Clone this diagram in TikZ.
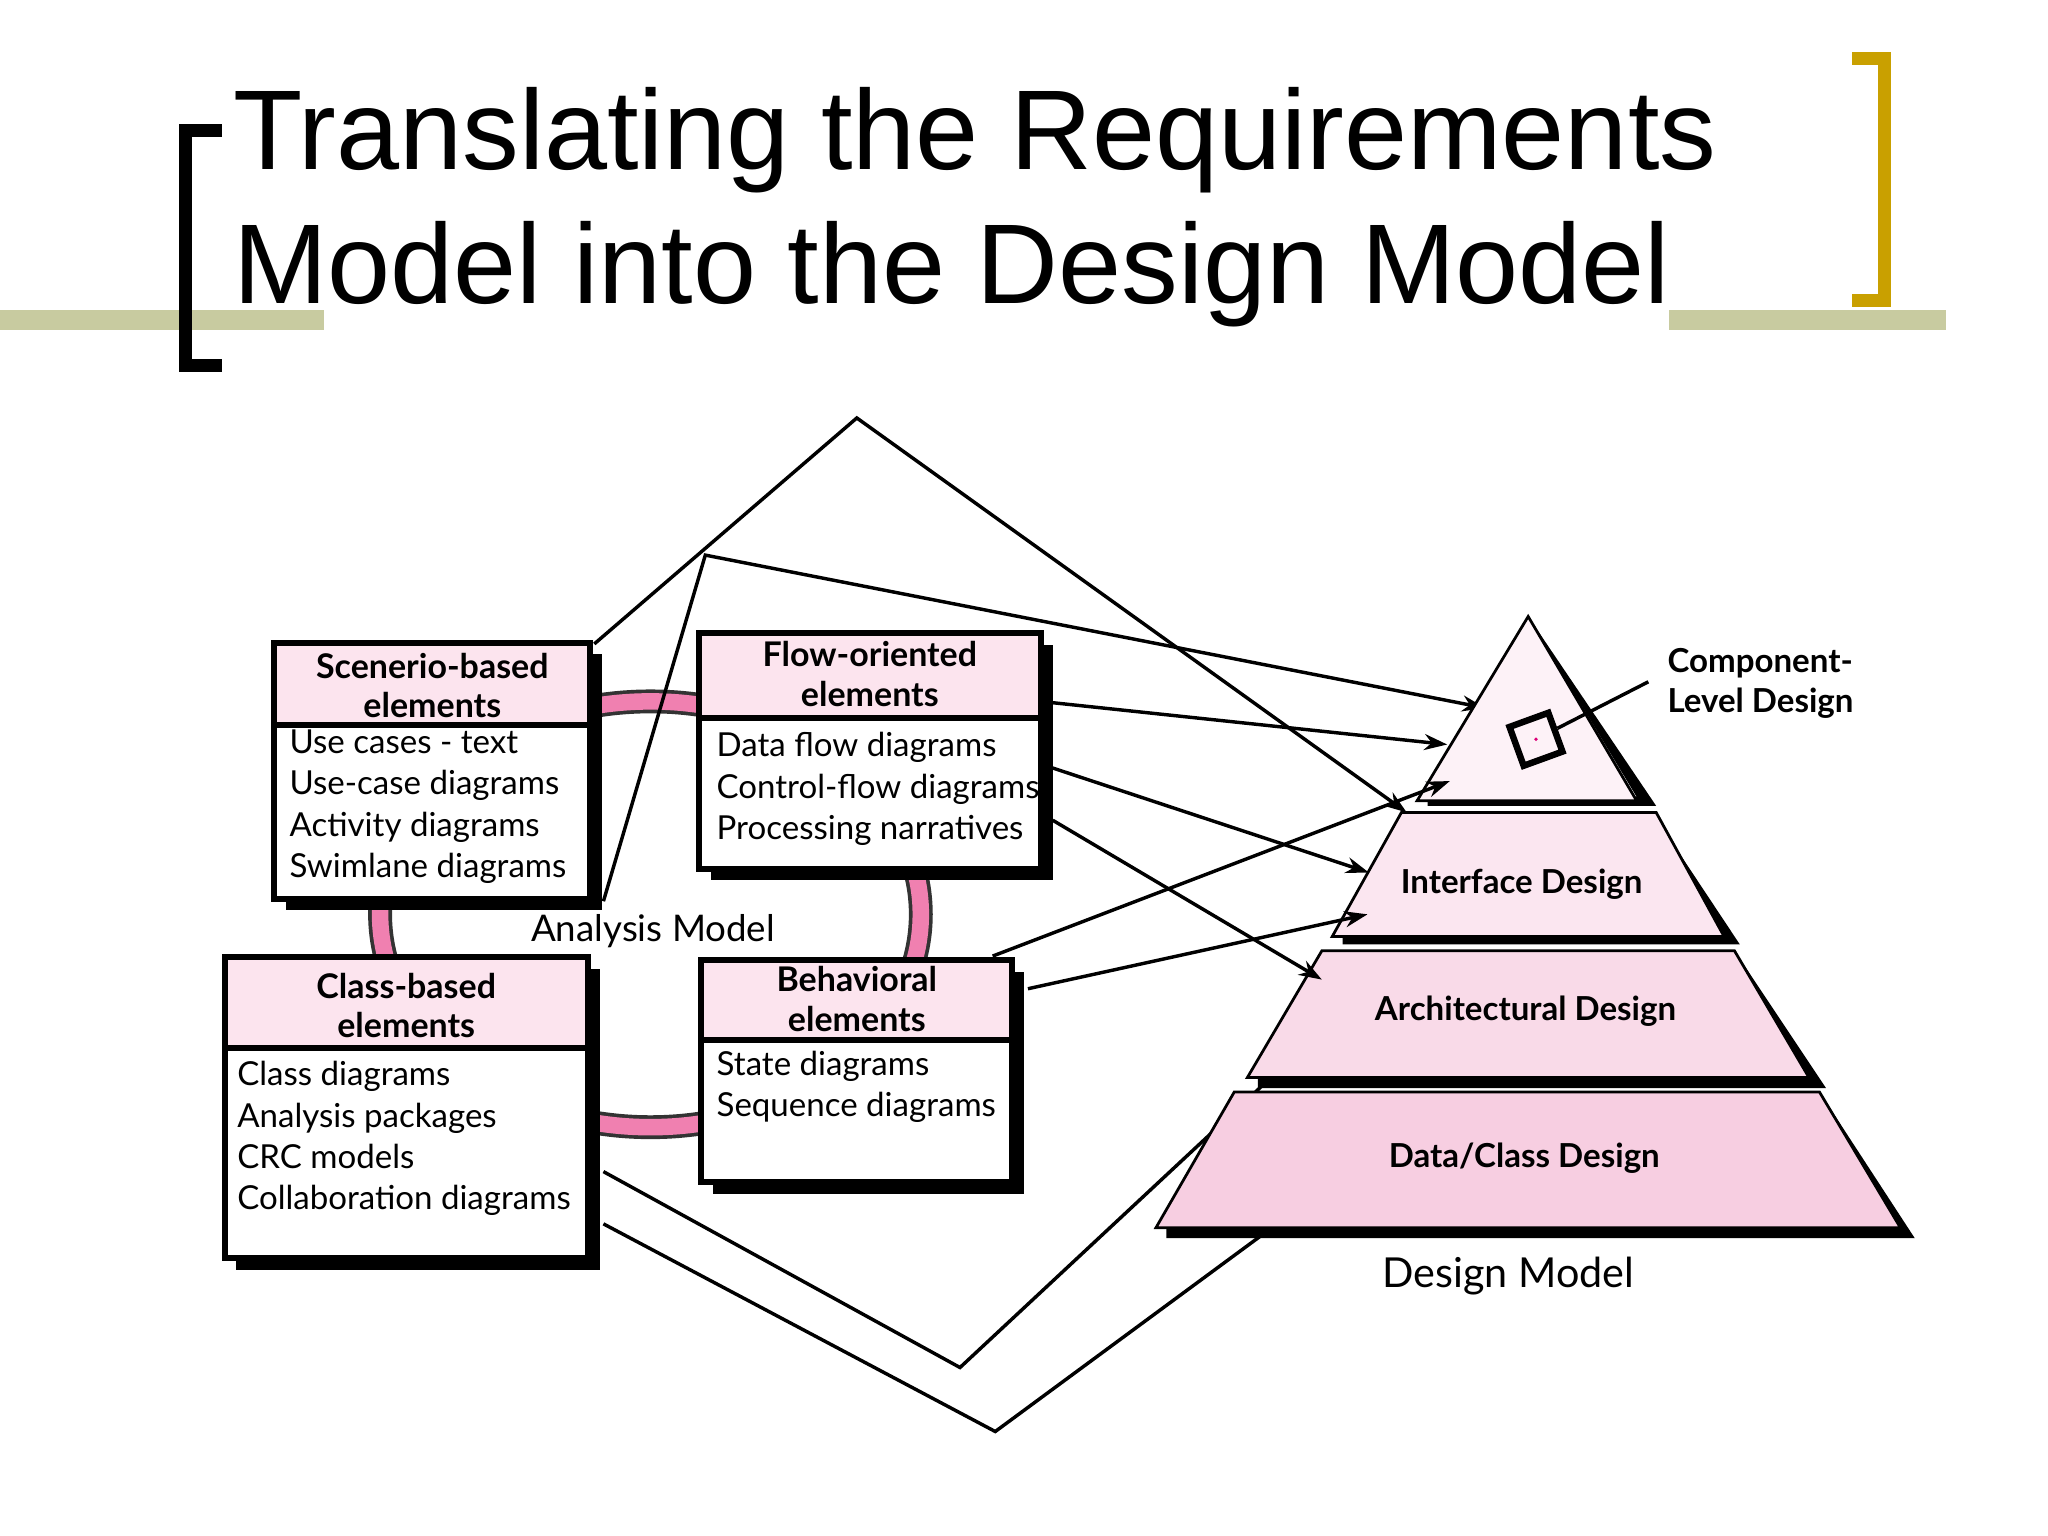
\documentclass[tikz,border=0pt]{standalone}
\usepackage{fontspec}
\setmainfont{Lato}
\newfontfamily\titlefont{Liberation Sans}
\usetikzlibrary{arrows.meta}
\definecolor{olive}{RGB}{200,203,160}
\definecolor{gold}{RGB}{201,160,0}
\definecolor{hdr}{RGB}{252,228,238}
\definecolor{ring}{RGB}{240,128,176}
\definecolor{pA}{RGB}{253,242,247}
\definecolor{pB}{RGB}{251,230,240}
\definecolor{pC}{RGB}{249,218,232}
\definecolor{pD}{RGB}{247,206,225}
\definecolor{mag}{RGB}{220,0,120}
\tikzset{
  conn/.style={line width=0.75pt,-{Stealth[length=5pt,width=3.5pt]}},
  plain/.style={line width=0.75pt},
  boxline/.style={line width=1.3pt},
  hd/.style={font=\bfseries\fontsize{7.4}{8.6}\selectfont,align=center,inner sep=0},
  it/.style={font=\fontsize{7.2}{9}\selectfont,align=left,anchor=north west,inner sep=0},
  lay/.style={draw=black,line width=0.6pt,line join=miter},
  sh/.style={fill=black},
  pl/.style={font=\bfseries\fontsize{7.2}{8.6}\selectfont,inner sep=0},
}
\newcommand{\elbox}[9]{%
  % #1 name, #2 x1, #3 y1, #4 x2, #5 y2, #6 ydiv, #7 title, #8 items, #9 title y
  \fill[black] (#2+9,#3+9) rectangle (#4+9,#5+9);
  \draw[boxline,fill=white] (#2,#3) rectangle (#4,#5);
  \draw[boxline,fill=hdr] (#2,#3) rectangle (#4,#6);
  \path (#2,#3) coordinate (#1-nw) (#4,#5) coordinate (#1-se);
  \node[hd] (#1-t) at ({(#2+#4)/2},#9) {#7};
}
\begin{document}
\begin{tikzpicture}[x=0.1mm,y=-0.1mm]
\useasboundingbox (0,0) rectangle (1568,1176);
% title decorations
\fill[olive] (0,237) rectangle (248,253);
\fill[olive] (1278,237) rectangle (1490,253);
\fill[black] (137,95) rectangle (147,285);
\fill[black] (137,95) rectangle (170,105);
\fill[black] (137,275) rectangle (170,285);
\fill[gold] (1438,40) rectangle (1448,235);
\fill[gold] (1418,40) rectangle (1448,50);
\fill[gold] (1418,225) rectangle (1448,235);
\node[anchor=base west,inner sep=0,font=\titlefont\fontsize{24.7}{29}\selectfont] (t1) at (178,130) {Translating the Requirements};
\node[anchor=base west,inner sep=0,font=\titlefont\fontsize{24.7}{29}\selectfont] (t2) at (178,232) {Model into the Design Model};
% ring
\draw[line width=5.2pt,black!80] (498,700) ellipse [x radius=207,y radius=163];
\draw[line width=3.6pt,ring] (498,700) ellipse [x radius=207,y radius=163];
% big diamond lines (behind boxes)
\coordinate (d1) at (455,493);
\coordinate (d2) at (656,320);
\coordinate (d3) at (1077,622);
\draw[conn] (d1) -- (d2) -- (d3);
\coordinate (e1) at (462,690);
\coordinate (e2) at (540,425);
\coordinate (e3) at (1137,542);
\draw[conn] (e1) -- (e2) -- (e3);
\coordinate (f1) at (462,897);
\coordinate (f2) at (735,1047);
\coordinate (f3) at (1002,798);
\draw[conn] (f1) -- (f2) -- (f3);
\coordinate (g1) at (462,937);
\coordinate (g2) at (762,1096);
\coordinate (g3) at (1028,900);
\draw[conn] (g1) -- (g2) -- (g3);
% boxes
\elbox{sc}{210}{492}{452}{688}{555}{Scenerio-based\\elements}{}{525}
\node[it] (sci) at (221,558) {Use cases - text\\Use-case diagrams\\Activity diagrams\\Swimlane diagrams};
\elbox{fl}{535}{485}{797}{665}{550}{Flow-oriented\\elements}{}{516}
\node[it] (fli) at (548,560) {Data flow diagrams\\Control-flow diagrams\\Processing narratives};
\elbox{cl}{172}{733}{450}{963}{802}{Class-based\\elements}{}{770}
\node[it] (cli) at (181,812) {Class diagrams\\Analysis packages\\CRC models\\Collaboration diagrams};
\elbox{be}{537}{735}{775}{905}{796}{Behavioral\\elements}{}{765}
\node[it] (bei) at (548,804) {State diagrams\\Sequence diagrams};
\node[font=\fontsize{8}{9}\selectfont,inner sep=0] (am) at (500,713) {Analysis Model};
% pyramid
\coordinate (pa) at (1170,472);
\fill[black] (1170,472) -- (1268,617) -- (1093,617) -- (1093,610) -- (1253,610) -- cycle;
\draw[lay,fill=pA] (1170,472) -- (1253,613) -- (1085,613) -- cycle;
\fill[black] (1265,622) -- (1332,723) -- (1028,723) -- (1028,717) -- (1320,717) -- cycle;
\draw[lay,fill=pB] (1073,622) -- (1268,622) -- (1320,717) -- (1020,717) -- cycle;
\fill[black] (1328,728) -- (1398,833) -- (963,833) -- (963,825) -- (1385,825) -- cycle;
\draw[lay,fill=pC] (1012,728) -- (1328,728) -- (1385,825) -- (955,825) -- cycle;
\fill[black] (1393,836) -- (1466,948) -- (893,948) -- (893,940) -- (1455,940) -- cycle;
\draw[lay,fill=pD] (945,836) -- (1393,836) -- (1455,940) -- (885,940) -- cycle;
\node[pl] (ifd) at (1165,677) {Interface Design};
\node[pl] (ard) at (1168,774) {Architectural Design};
\node[pl] (dcd) at (1167,887) {Data/Class Design};
\node[font=\fontsize{9}{10}\selectfont,inner sep=0] (dm) at (1155,977) {Design Model};
\node[pl,anchor=west,align=left,font=\bfseries\fontsize{7.2}{8.8}\selectfont] (cld) at (1276,523) {Component-\\Level Design};
\node[draw=black,line width=1.4pt,fill=pA,minimum size=9pt,inner sep=0,rotate=20] (sq) at (1176,566) {};
\fill[mag] (sq.center) circle (1.5);
\draw[plain] (1262,522) -- (sq);
% flow connectors
\coordinate (h1) at (806,538);
\coordinate (h2) at (1108,570);
\draw[conn] (h1) -- (h2);
\coordinate (i1) at (806,588);
\coordinate (i2) at (1048,668);
\draw[conn] (i1) -- (i2);
\coordinate (j1) at (806,628);
\coordinate (j2) at (1012,750);
\draw[conn] (j1) -- (j2);
\coordinate (k1) at (760,732);
\coordinate (k2) at (1110,598);
\draw[conn] (k1) -- (k2);
\coordinate (l1) at (787,757);
\coordinate (l2) at (1047,700);
\draw[conn] (l1) -- (l2);
\end{tikzpicture}
\end{document}
